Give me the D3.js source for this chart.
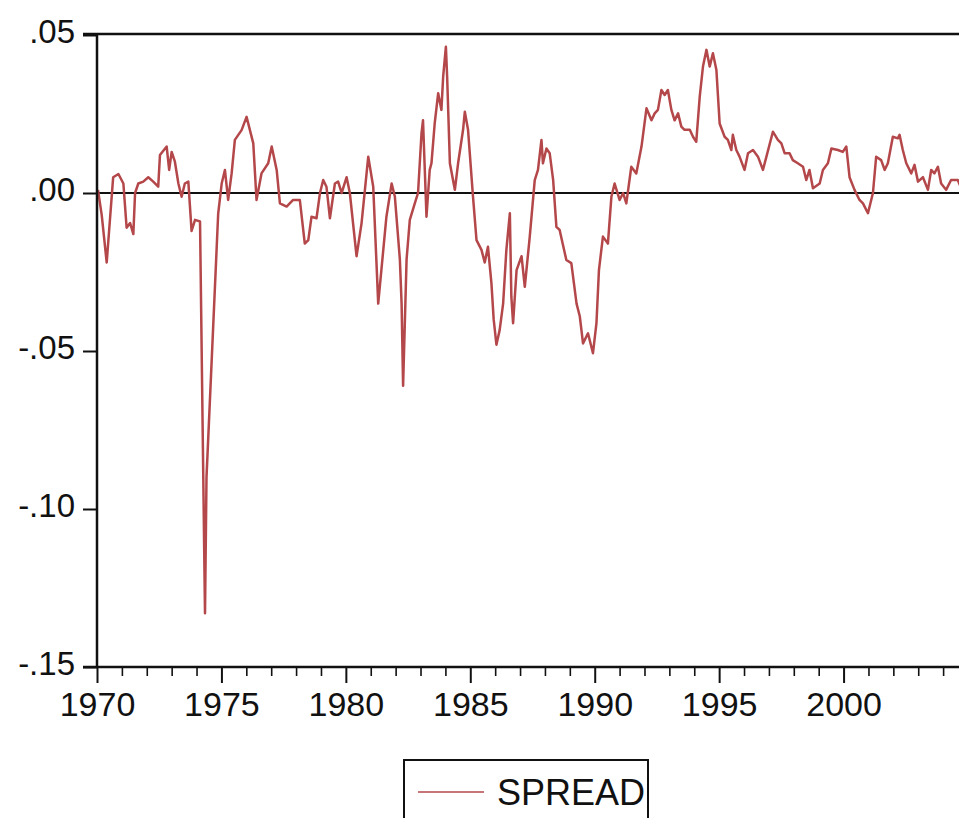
<!DOCTYPE html>
<html>
<head>
<meta charset="utf-8">
<script src="https://cdn.jsdelivr.net/npm/d3@7"></script>
<style>
  body { margin: 0; background: #fff; }
  text { font-family: "Liberation Sans", Arial, sans-serif; fill: #111; }
</style>
</head>
<body>
<div id="chart"></div>
<script>
// data (decimal years, spread)
//====================
var dates = [
  1970.04, 1970.19, 1970.39, 1970.65, 1970.86, 1971.06, 1971.19, 1971.33, 1971.46, 1971.53,
  1971.66, 1971.86, 1972.06, 1972.26, 1972.46, 1972.53, 1972.80, 1972.90, 1973.00, 1973.13,
  1973.27, 1973.40, 1973.53, 1973.67, 1973.80, 1973.94, 1974.14, 1974.34, 1974.40, 1974.87,
  1975.01, 1975.14, 1975.27, 1975.41, 1975.54, 1975.81, 1976.01, 1976.28, 1976.41, 1976.61,
  1976.88, 1977.02, 1977.22, 1977.35, 1977.62, 1977.88, 1978.15, 1978.35, 1978.49, 1978.62,
  1978.82, 1978.96, 1979.09, 1979.22, 1979.36, 1979.56, 1979.69, 1979.83, 1980.03, 1980.16,
  1980.43, 1980.63, 1980.90, 1981.10, 1981.30, 1981.63, 1981.84, 1981.97, 1982.17, 1982.24,
  1982.30, 1982.44, 1982.57, 1982.77, 1982.90, 1983.04, 1983.10, 1983.24, 1983.37, 1983.44,
  1983.57, 1983.71, 1983.84, 1983.91, 1984.02, 1984.07, 1984.18, 1984.38, 1984.51, 1984.71,
  1984.78, 1984.91, 1985.11, 1985.25, 1985.45, 1985.58, 1985.71, 1985.85, 1985.94, 1986.05,
  1986.18, 1986.32, 1986.45, 1986.59, 1986.65, 1986.72, 1986.86, 1987.06, 1987.19, 1987.39,
  1987.59, 1987.72, 1987.86, 1987.92, 1988.06, 1988.19, 1988.33, 1988.46, 1988.59, 1988.86,
  1989.06, 1989.27, 1989.40, 1989.53, 1989.73, 1989.93, 1990.07, 1990.17, 1990.33, 1990.53,
  1990.67, 1990.80, 1991.00, 1991.14, 1991.27, 1991.47, 1991.67, 1991.88, 1992.08, 1992.28,
  1992.41, 1992.54, 1992.68, 1992.81, 1992.94, 1993.08, 1993.21, 1993.35, 1993.48, 1993.61,
  1993.82, 1993.95, 1994.08, 1994.22, 1994.35, 1994.49, 1994.62, 1994.75, 1994.89, 1995.02,
  1995.22, 1995.35, 1995.49, 1995.55, 1995.69, 1995.82, 1996.02, 1996.16, 1996.36, 1996.56,
  1996.76, 1996.90, 1997.16, 1997.36, 1997.50, 1997.63, 1997.83, 1997.96, 1998.16, 1998.37,
  1998.50, 1998.63, 1998.77, 1999.04, 1999.17, 1999.37, 1999.51, 1999.77, 1999.97, 2000.11,
  2000.24, 2000.44, 2000.64, 2000.78, 2000.98, 2001.18, 2001.31, 2001.51, 2001.65, 2001.78,
  2001.98, 2002.18, 2002.25, 2002.38, 2002.52, 2002.72, 2002.85, 2002.99, 2003.19, 2003.39,
  2003.52, 2003.65, 2003.79, 2003.92, 2004.12, 2004.32, 2004.59, 2004.75
];

var spread = [
  0.001, -0.007, -0.022, 0.005, 0.006, 0.003, -0.011, -0.0095, -0.013, 0.0,
  0.003, 0.0036, 0.005, 0.0036, 0.002, 0.012, 0.0147, 0.0073, 0.013, 0.0099,
  0.003, -0.0012, 0.003, 0.0036, -0.012, -0.0085, -0.009, -0.133, -0.09, -0.0065,
  0.003, 0.0073, -0.0022, 0.0062, 0.0168, 0.0199, 0.0241, 0.0157, -0.0022, 0.0062,
  0.0094, 0.0147, 0.0073, -0.0033, -0.0043, -0.0022, -0.0022, -0.016, -0.0149, -0.0075,
  -0.008, 0.0, 0.0041, 0.002, -0.008, 0.003, 0.0036, 0.0, 0.005, 0.0,
  -0.020, -0.0096, 0.0115, 0.002, -0.035, -0.0075, 0.003, -0.0012, -0.021, -0.035,
  -0.061, -0.021, -0.0085, -0.0033, 0.0, 0.0189, 0.023, -0.0075, 0.0073, 0.0094,
  0.022, 0.0316, 0.0263, 0.0368, 0.0463, 0.0368, 0.0094, 0.001, 0.0094, 0.020,
  0.0257, 0.020, -0.0012, -0.0149, -0.018, -0.022, -0.017, -0.0286, -0.040, -0.048,
  -0.0434, -0.035, -0.018, -0.0064, -0.0328, -0.0412, -0.0244, -0.020, -0.0297, -0.0138,
  0.0041, 0.0073, 0.0168, 0.0094, 0.0141, 0.0126, 0.0041, -0.0107, -0.0117, -0.0212,
  -0.0222, -0.035, -0.039, -0.0476, -0.0444, -0.0507, -0.0412, -0.0244, -0.0138, -0.016,
  -0.0012, 0.003, -0.0022, 0.0, -0.0033, 0.0083, 0.0062, 0.0147, 0.0268, 0.023,
  0.0252, 0.0263, 0.0326, 0.031, 0.0326, 0.0263, 0.023, 0.0252, 0.021, 0.020,
  0.020, 0.0178, 0.0162, 0.0305, 0.040, 0.0453, 0.040, 0.0442, 0.0389, 0.022,
  0.0178, 0.0168, 0.0136, 0.0184, 0.0136, 0.0115, 0.0073, 0.0126, 0.0136, 0.0115,
  0.0073, 0.0115, 0.0194, 0.0168, 0.0157, 0.0126, 0.0126, 0.0104, 0.0094, 0.0083,
  0.0041, 0.0073, 0.0015, 0.003, 0.0073, 0.0094, 0.0141, 0.0136, 0.013, 0.0147,
  0.005, 0.001, -0.0022, -0.0033, -0.0064, 0.0, 0.0115, 0.0104, 0.0073, 0.0094,
  0.0178, 0.0173, 0.0184, 0.0136, 0.0094, 0.0062, 0.0089, 0.0036, 0.005, 0.001,
  0.0073, 0.0062, 0.0083, 0.003, 0.001, 0.0041, 0.0041, 0.001
];

var yTicks = [-0.15, -0.10, -0.05, 0.00, 0.05];
var yTickLabels = ["-.15", "-.10", "-.05", ".00", ".05"];
var xMajorTicks = [1970, 1975, 1980, 1985, 1990, 1995, 2000];
var seriesName = "SPREAD";

// chart setup
//====================
var svgWidth = 959;
var svgHeight = 818;

var margin = { top: 35, left: 97 };
var plotBottom = 667;
var plotRight = 968;

var svg = d3.select("#chart")
    .append("svg")
    .attr("width", svgWidth)
    .attr("height", svgHeight);

var lineColor = "#b4474a";

var xScale = d3.scaleLinear()
    .domain([1970, 2005])
    .range([margin.left, plotRight]);

var yScale = d3.scaleLinear()
    .domain([-0.15, 0.05])
    .range([plotBottom, margin.top]);

// zero line
svg.append("line")
    .attr("x1", margin.left)
    .attr("x2", plotRight)
    .attr("y1", yScale(0))
    .attr("y2", yScale(0))
    .attr("stroke", "#111")
    .attr("stroke-width", 2);

// the series
var data = dates.map(function (d, i) { return { t: d, v: spread[i] }; });

var line = d3.line()
    .x(d => xScale(d.t))
    .y(d => yScale(d.v));

svg.append("path")
    .datum(data)
    .attr("d", line)
    .attr("fill", "none")
    .attr("stroke", lineColor)
    .attr("stroke-width", 2.5)
    .attr("stroke-linejoin", "round");

// left axis
//====================
var leftAxis = d3.axisLeft(yScale)
    .tickValues(yTicks)
    .tickSize(14)
    .tickPadding(8)
    .tickFormat((d, i) => yTickLabels[i]);

var yAxisG = svg.append("g")
    .attr("transform", `translate(${margin.left}, 0)`)
    .call(leftAxis);

yAxisG.select(".domain").remove();
yAxisG.selectAll("line").attr("stroke", "#111").attr("stroke-width", 2);
yAxisG.selectAll("text")
    .attr("font-size", 33)
    .attr("dy", "0.22em")
    .style("font-family", "'Liberation Sans', Arial, sans-serif")
    .attr("fill", "#111");

// bottom axis: yearly minor ticks, 5-year major ticks
//====================
var years = d3.range(1970, 2005);

var minorAxis = d3.axisBottom(xScale)
    .tickValues(years.filter(y => y % 5 !== 0))
    .tickSize(9)
    .tickFormat("");

var xMinorG = svg.append("g")
    .attr("transform", `translate(0, ${plotBottom})`)
    .call(minorAxis);
xMinorG.select(".domain").remove();
xMinorG.selectAll("line").attr("stroke", "#111").attr("stroke-width", 1.6);

var bottomAxis = d3.axisBottom(xScale)
    .tickValues(xMajorTicks)
    .tickSize(16)
    .tickPadding(9)
    .tickFormat(d3.format("d"));

var xAxisG = svg.append("g")
    .attr("transform", `translate(0, ${plotBottom})`)
    .call(bottomAxis);
xAxisG.select(".domain").remove();
xAxisG.selectAll("line").attr("stroke", "#111").attr("stroke-width", 2);
xAxisG.selectAll("text")
    .attr("font-size", 34)
    .style("font-family", "'Liberation Sans', Arial, sans-serif")
    .attr("fill", "#111");

// frame lines
svg.append("line")
    .attr("x1", margin.left).attr("x2", margin.left)
    .attr("y1", margin.top - 1).attr("y2", plotBottom + 1)
    .attr("stroke", "#111").attr("stroke-width", 2.5);

svg.append("line")
    .attr("x1", margin.left - 14).attr("x2", plotRight)
    .attr("y1", margin.top - 1).attr("y2", margin.top - 1)
    .attr("stroke", "#111").attr("stroke-width", 2.5);

svg.append("line")
    .attr("x1", margin.left - 14).attr("x2", plotRight)
    .attr("y1", plotBottom).attr("y2", plotBottom)
    .attr("stroke", "#111").attr("stroke-width", 2.5);

// legend
//====================
var legend = svg.append("g");

legend.append("rect")
    .attr("x", 404)
    .attr("y", 760)
    .attr("width", 244)
    .attr("height", 80)
    .attr("fill", "#fff")
    .attr("stroke", "#111")
    .attr("stroke-width", 2);

legend.append("line")
    .attr("x1", 418).attr("x2", 484)
    .attr("y1", 792).attr("y2", 792)
    .attr("stroke", lineColor)
    .attr("stroke-width", 1.5);

legend.append("text")
    .attr("x", 497)
    .attr("y", 805)
    .attr("font-size", 36)
    .text(seriesName);
</script>
</body>
</html>
